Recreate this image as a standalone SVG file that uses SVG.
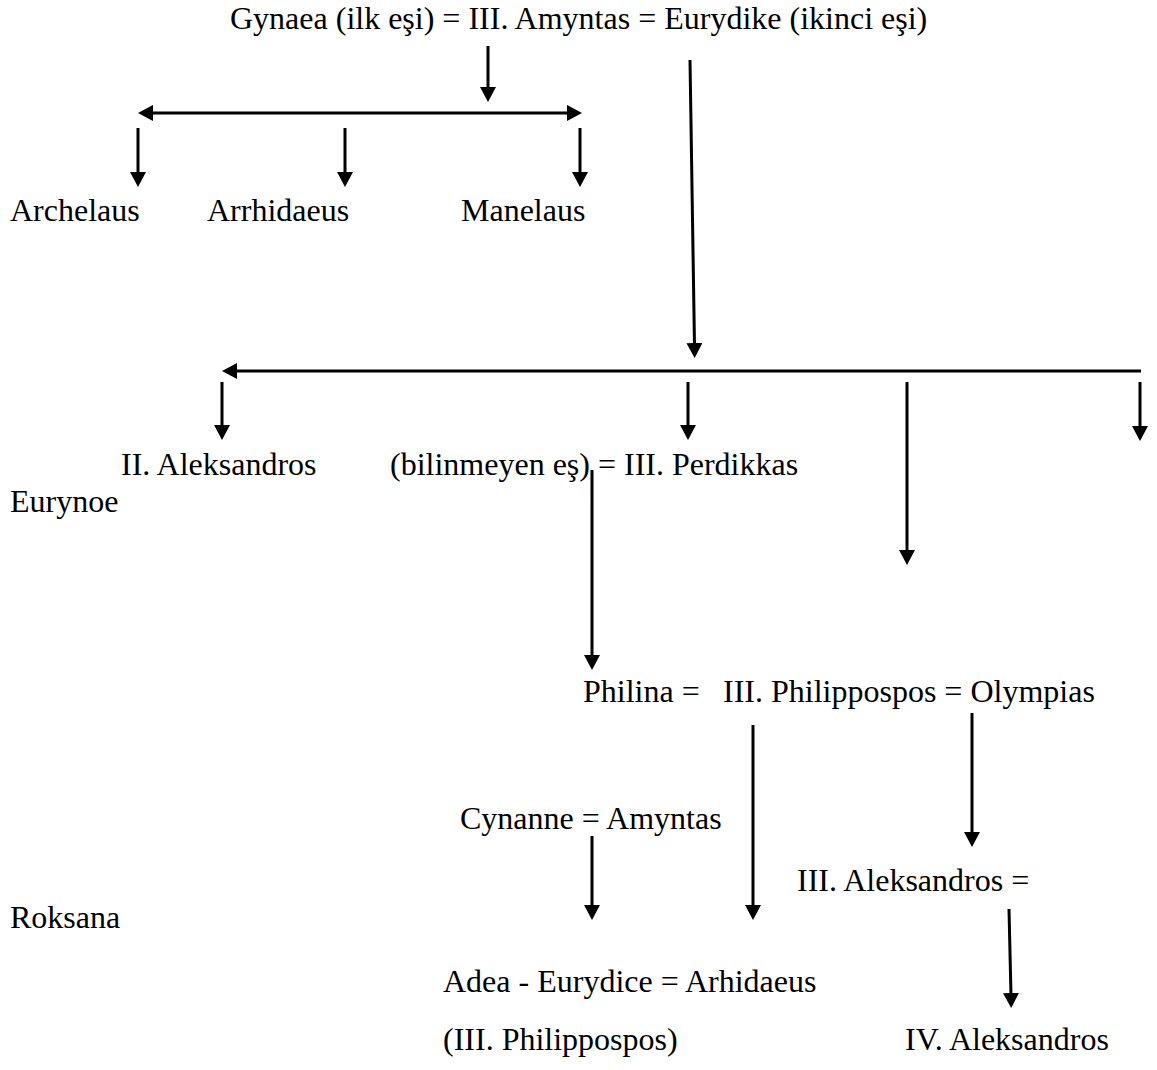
<svg xmlns="http://www.w3.org/2000/svg" width="1157" height="1070" viewBox="0 0 1157 1070">
<style>
text{font-family:"Liberation Serif","Times New Roman",serif;font-size:32px;fill:#000}
.c path{fill:none;stroke:#000;stroke-width:3;marker-end:url(#ah)}
.c path.both{marker-start:url(#ah)}
</style>
<defs>
<marker id="ah" markerUnits="userSpaceOnUse" markerWidth="16" markerHeight="16" refX="3" refY="8" orient="auto-start-reverse">
<path d="M0,0 L15,8 L0,16 z" fill="#000"/>
</marker>
</defs>
<rect width="1157" height="1070" fill="#fff"/>
<g id="n-amyntas3"><text x="230" y="29">Gynaea (ilk eşi) = III. Amyntas = Eurydike (ikinci eşi)</text></g>
<g id="n-archelaus"><text x="10" y="221">Archelaus</text></g>
<g id="n-arrhidaeus"><text x="207" y="221">Arrhidaeus</text></g>
<g id="n-manelaus"><text x="461" y="221">Manelaus</text></g>
<g id="n-aleksandros2"><text x="121" y="475">II. Aleksandros</text></g>
<g id="n-perdikkas"><text x="390" y="475">(bilinmeyen eş) = III. Perdikkas</text></g>
<g id="n-eurynoe"><text x="10" y="512">Eurynoe</text></g>
<g id="n-philippos"><text x="583" y="702">Philina =</text><text x="723" y="702">III. Philippospos = Olympias</text></g>
<g id="n-cynanne"><text x="460" y="829">Cynanne = Amyntas</text></g>
<g id="n-aleksandros3"><text x="797" y="891">III. Aleksandros =</text></g>
<g id="n-roksana"><text x="10" y="928">Roksana</text></g>
<g id="n-adea"><text x="443" y="992">Adea - Eurydice = Arhidaeus</text></g>
<g id="n-philippos3"><text x="443" y="1050">(III. Philippospos)</text></g>
<g id="n-aleksandros4"><text x="905" y="1050">IV. Aleksandros</text></g>
<g id="connectors" class="c">
<path d="M488,46 V90"/>
<path class="both" d="M150,113 H570"/>
<path d="M138,128 V175"/>
<path d="M345,128 V175"/>
<path d="M580,128 V175"/>
<path d="M690,60 L694.5,346"/>
<path d="M1141,371 H234"/>
<path d="M222,382 V428"/>
<path d="M688,382 V428"/>
<path d="M907,382 V553"/>
<path d="M1140,382 V429"/>
<path d="M592,470 V658"/>
<path d="M753,725 V908"/>
<path d="M592,836 V908"/>
<path d="M972,713 V835"/>
<path d="M1009,909 L1011,996"/>
</g>
</svg>
